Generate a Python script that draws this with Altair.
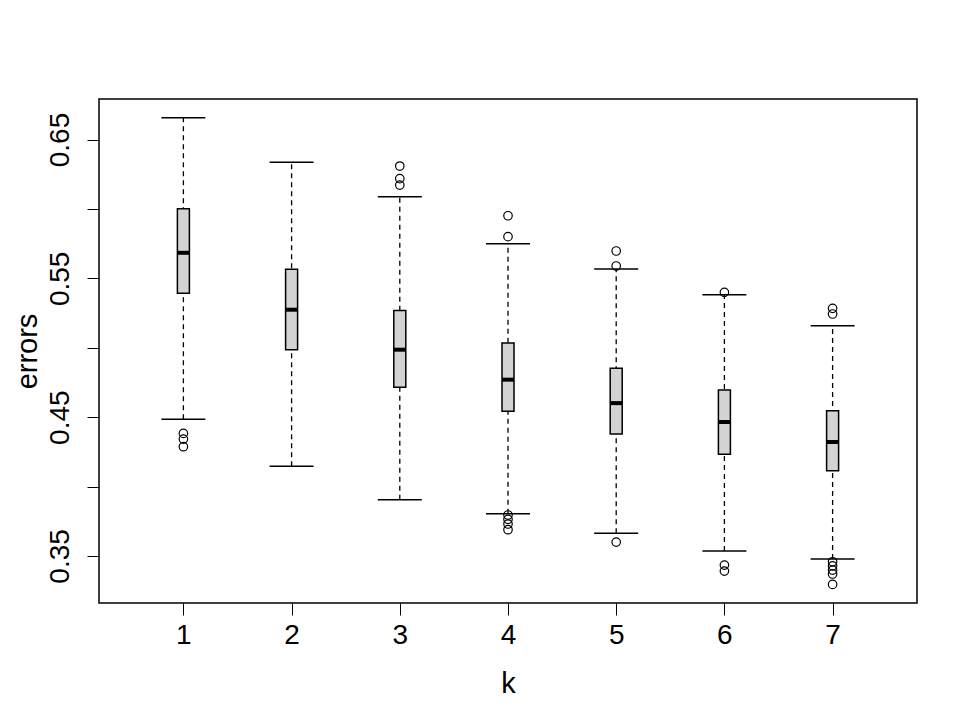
import altair as alt
import pandas as pd

k = [1, 2, 3, 4, 5, 6, 7]
whisker_low = [0.4484, 0.4146, 0.3905, 0.3804, 0.3663, 0.3535, 0.3478]
q1 = [0.5392, 0.4986, 0.4715, 0.4542, 0.4378, 0.4232, 0.4114]
median = [0.5684, 0.5274, 0.4986, 0.4770, 0.4601, 0.4465, 0.4321]
q3 = [0.6001, 0.5565, 0.5269, 0.5034, 0.4852, 0.4695, 0.4546]
whisker_high = [0.6657, 0.6336, 0.6088, 0.5749, 0.5567, 0.5382, 0.5159]

outlier_k = [1, 1, 1,
             3, 3, 3,
             4, 4, 4, 4, 4, 4,
             5, 5, 5,
             6, 6, 6,
             7, 7, 7, 7, 7, 7, 7]
outlier_val = [0.4383, 0.4342, 0.4287,
               0.6309, 0.6218, 0.6172,
               0.5951, 0.5800, 0.3795, 0.3764, 0.3730, 0.3689,
               0.5697, 0.5589, 0.3600,
               0.5399, 0.3434, 0.3391,
               0.5284, 0.5243, 0.3458, 0.3429, 0.3398, 0.3370, 0.3295]

y_ticks = [0.35, 0.40, 0.45, 0.50, 0.55, 0.60, 0.65]

stats = pd.DataFrame({"k": k, "lo": whisker_low, "q1": q1, "med": median,
                      "q3": q3, "hi": whisker_high})
outs = pd.DataFrame({"k": outlier_k, "v": outlier_val})

FONT = "Liberation Sans"
FS = 28

xscale = alt.Scale(domain=[0.22, 7.78], nice=False, zero=False, padding=0)
yscale = alt.Scale(domain=[0.3161, 0.6792], nice=False, zero=False, padding=0)

xaxis = alt.Axis(values=k, title="k", grid=False, domain=False, tickColor="black",
                 tickSize=12, tickWidth=1, labelFontSize=FS, labelColor="black",
                 labelFont=FONT, labelPadding=6, titleFont=FONT, titleFontSize=FS + 1,
                 titleFontWeight="normal", titleColor="black", titlePadding=20,
                 format="d")
yaxis = alt.Axis(values=y_ticks, title="errors", grid=False, domain=False,
                 tickColor="black", tickSize=12, tickWidth=1, labelFontSize=FS,
                 labelColor="black", labelFont=FONT, labelAngle=270,
                 labelAlign="center", labelBaseline="bottom", labelPadding=13,
                 labelExpr="indexof(['0.35','0.45','0.55','0.65'], format(datum.value,'.2f')) >= 0 ? format(datum.value,'.2f') : ''",
                 titleFont=FONT, titleFontSize=FS + 1, titleFontWeight="normal",
                 titleColor="black", titlePadding=4)

base = alt.Chart(stats)

whisk = base.mark_rule(color="black", strokeWidth=1.3, strokeDash=[5, 4]).encode(
    x=alt.X("k:Q", scale=xscale, axis=xaxis),
    y=alt.Y("lo:Q", scale=yscale, axis=yaxis),
    y2="hi:Q",
)
caps_hi = base.mark_tick(orient="horizontal", size=44, thickness=1.5, color="black",
                         opacity=1).encode(
    x=alt.X("k:Q", scale=xscale), y=alt.Y("hi:Q", scale=yscale))
caps_lo = base.mark_tick(orient="horizontal", size=44, thickness=1.5, color="black",
                         opacity=1).encode(
    x=alt.X("k:Q", scale=xscale), y=alt.Y("lo:Q", scale=yscale))
boxes = base.mark_bar(size=12, fill="#D3D3D3", stroke="black", strokeWidth=1.5,
                      opacity=1).encode(
    x=alt.X("k:Q", scale=xscale), y=alt.Y("q1:Q", scale=yscale), y2="q3:Q")
meds = base.mark_tick(orient="horizontal", size=12, thickness=4, color="black",
                      opacity=1).encode(
    x=alt.X("k:Q", scale=xscale), y=alt.Y("med:Q", scale=yscale))
points = alt.Chart(outs).mark_point(shape="circle", size=72, filled=False,
                                    color="black", strokeWidth=1.2, opacity=1).encode(
    x=alt.X("k:Q", scale=xscale), y=alt.Y("v:Q", scale=yscale))

chart = alt.layer(whisk, caps_hi, caps_lo, boxes, meds, points).properties(
    width=818, height=504,
    autosize=alt.AutoSizeParams(type="none"),
    padding={"left": 91, "top": 91, "right": 44, "bottom": 116},
    background="white",
).configure_view(stroke="black", strokeWidth=1.5)

chart.save("out.html", embed_options={"renderer": "svg", "actions": False})
